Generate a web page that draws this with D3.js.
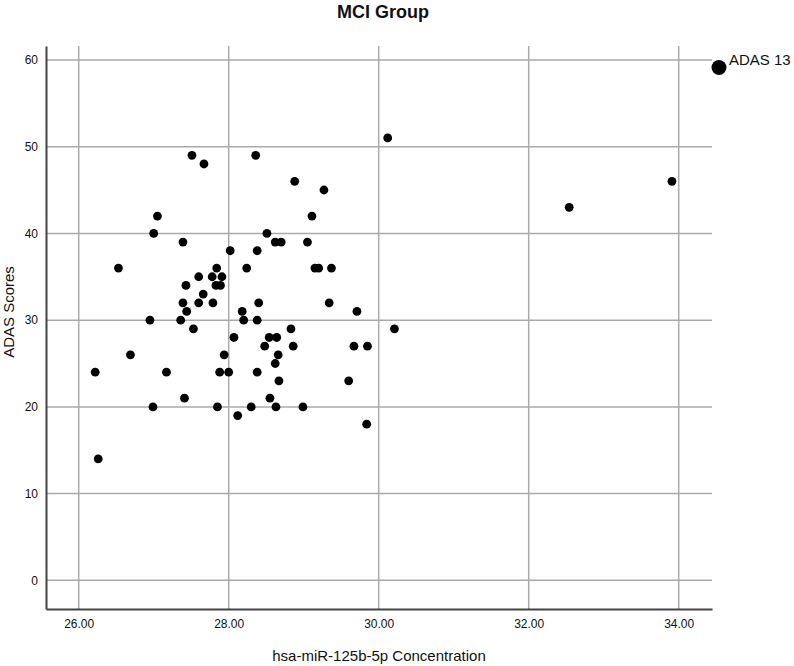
<!DOCTYPE html>
<html>
<head>
<meta charset="utf-8">
<script src="https://cdn.jsdelivr.net/npm/d3@7"></script>
<style>
  body { margin: 0; background: #fff; }
  text { font-family: "Liberation Sans", Arial, sans-serif; fill: #111; }
</style>
</head>
<body>
<div id="scatter"></div>
<script>
// MCI group: miR-125b-5p concentration vs ADAS scores
var concentration = [27.51, 27.67, 28.36, 27.05, 27.00, 27.39, 28.51, 28.62, 28.70, 28.02,
  28.38, 26.53, 27.84, 28.24, 27.60, 27.78, 27.91, 27.43, 27.83, 27.89,
  27.66, 27.39, 27.60, 27.79, 28.40, 27.44, 28.18, 26.95, 27.36, 28.20,
  28.38, 27.53, 28.07, 28.54, 28.64, 28.88, 29.27, 29.11, 29.05, 29.15,
  29.20, 29.37, 29.34, 29.71, 28.83, 28.48, 28.86, 29.67, 29.85, 27.94,
  28.66, 28.62, 27.88, 28.00, 28.38, 28.67, 29.60, 27.41, 28.55, 27.85,
  28.30, 28.63, 28.99, 28.12, 29.84, 26.69, 26.22, 27.17, 26.99, 26.26,
  30.12, 30.21, 33.91, 32.54];
var adasScores = [49, 48, 49, 42, 40, 39, 40, 39, 39, 38,
  38, 36, 36, 36, 35, 35, 35, 34, 34, 34,
  33, 32, 32, 32, 32, 31, 31, 30, 30, 30,
  30, 29, 28, 28, 28, 46, 45, 42, 39, 36,
  36, 36, 32, 31, 29, 27, 27, 27, 27, 26,
  26, 25, 24, 24, 24, 23, 23, 21, 21, 20,
  20, 20, 20, 19, 18, 26, 24, 24, 20, 14,
  51, 29, 46, 43];
var xTicks = [26, 28, 30, 32, 34];
var yTicks = [0, 10, 20, 30, 40, 50, 60];
var seriesName = "ADAS 13";

var svgWidth = 794, svgHeight = 666;
var margin = { top: 46, right: 82, bottom: 57, left: 46 };
var width = svgWidth - margin.left - margin.right;
var height = svgHeight - margin.top - margin.bottom;

var svg = d3.select("#scatter")
  .append("svg")
  .attr("width", svgWidth)
  .attr("height", svgHeight);

var chartGroup = svg.append("g")
  .attr("transform", `translate(${margin.left}, ${margin.top})`);

var xScale = d3.scaleLinear().domain([25.564, 34.444]).range([0, width]);
var yScale = d3.scaleLinear().domain([-3.3, 61.6]).range([height, 0]);

// gridlines
chartGroup.append("g")
  .selectAll("line")
  .data(xTicks)
  .enter()
  .append("line")
  .attr("x1", d => xScale(d)).attr("x2", d => xScale(d))
  .attr("y1", 0).attr("y2", height)
  .attr("stroke", "#aaa").attr("stroke-width", 1.5);

chartGroup.append("g")
  .selectAll("line")
  .data(yTicks)
  .enter()
  .append("line")
  .attr("x1", 0).attr("x2", width)
  .attr("y1", d => yScale(d)).attr("y2", d => yScale(d))
  .attr("stroke", "#aaa").attr("stroke-width", 1.5);

// axes
var bottomAxis = d3.axisBottom(xScale).tickValues(xTicks).tickFormat(d3.format(".2f")).tickSize(0).tickPadding(10);
var leftAxis = d3.axisLeft(yScale).tickValues(yTicks).tickSize(0).tickPadding(8);

var gx = chartGroup.append("g")
  .attr("transform", `translate(0, ${height})`)
  .call(bottomAxis);
var gy = chartGroup.append("g").call(leftAxis);

[gx, gy].forEach(function(g) {
  g.select(".domain").attr("stroke", "#444").attr("stroke-width", 2);
  g.selectAll("text").style("font-size", "12px").attr("fill", "#111");
});

// points
var points = concentration.map((c, i) => ({ x: c, y: adasScores[i] }));
chartGroup.selectAll("circle.dot")
  .data(points)
  .enter()
  .append("circle")
  .attr("class", "dot")
  .attr("cx", d => xScale(d.x))
  .attr("cy", d => yScale(d.y))
  .attr("r", 4.4)
  .attr("fill", "#000");

// titles
svg.append("text")
  .attr("x", 383).attr("y", 18)
  .attr("text-anchor", "middle")
  .style("font-size", "18px").style("font-weight", "bold")
  .text("MCI Group");

svg.append("text")
  .attr("transform", `translate(${margin.left + width / 2}, 661)`)
  .attr("text-anchor", "middle")
  .style("font-size", "15px")
  .text("hsa-miR-125b-5p Concentration");

svg.append("text")
  .attr("transform", "translate(14, 312) rotate(-90)")
  .attr("text-anchor", "middle")
  .style("font-size", "15px")
  .text("ADAS Scores");

// legend
var legend = svg.append("g").attr("transform", "translate(719, 67.5)");
legend.append("circle").attr("r", 7.5).attr("fill", "#000");
legend.append("text").attr("x", 10).attr("y", -2.5)
  .style("font-size", "15px")
  .text(seriesName);
</script>
</body>
</html>
